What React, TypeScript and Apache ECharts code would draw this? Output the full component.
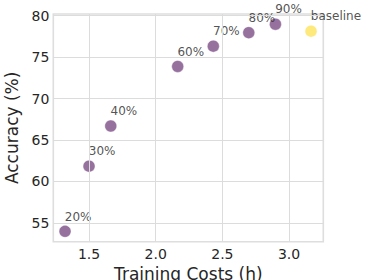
import React, { useEffect, useRef } from "react";
import * as echarts from "echarts";

const pruneLabels = ["20%", "30%", "40%", "60%", "70%", "80%", "90%"];
const pruneCosts = [1.32, 1.5, 1.663, 2.165, 2.432, 2.698, 2.898];
const pruneAccuracy = [53.97, 61.84, 66.68, 73.87, 76.32, 77.95, 78.97];
const baselineLabel = ["baseline"];
const baselineCost = [3.165];
const baselineAccuracy = [78.13];

const xTicks = [1.5, 2.0, 2.5, 3.0];
const yTicks = [55, 60, 65, 70, 75, 80];

const FONT = "DejaVu Sans";
const TEXT = "#262626";
const GRID = "#dcdcdc";

export default function App() {
  const ref = useRef<HTMLDivElement>(null);
  useEffect(() => {
    if (!ref.current) return;
    const chart = echarts.init(ref.current, null, { renderer: "svg" });
    const label = {
      show: true,
      formatter: (p: any) => p.name,
      position: [6, -8.5],
      align: "left",
      verticalAlign: "middle",
      fontFamily: FONT,
      fontSize: 12,
      color: TEXT,
    };
    chart.setOption({
      animation: false,
      textStyle: { fontFamily: FONT },
      grid: {
        left: 53.3,
        right: 43.7,
        top: 14,
        bottom: 38.3,
        containLabel: false,
        outerBoundsMode: "none",
        show: true,
        borderColor: "#dedede",
        borderWidth: 1.6,
        backgroundColor: "#ffffff",
      },
      xAxis: {
        type: "value",
        min: 1.232,
        max: 3.257,
        axisLine: { show: false },
        axisTick: { show: false, customValues: xTicks },
        splitLine: { show: false },
        axisLabel: {
          customValues: xTicks,
          fontFamily: FONT,
          fontSize: 14,
          color: TEXT,
          margin: 5,
          formatter: (v: number) => v.toFixed(1),
        },
        name: "Training Costs (h)",
        nameLocation: "middle",
        nameGap: 19,
        nameTextStyle: { fontFamily: FONT, fontSize: 17, color: TEXT },
      },
      yAxis: {
        type: "value",
        min: 52.72,
        max: 80.2,
        axisLine: { show: false },
        axisTick: { show: false, customValues: yTicks },
        splitLine: { show: false },
        axisLabel: {
          customValues: yTicks,
          fontFamily: FONT,
          fontSize: 14,
          color: TEXT,
          margin: 4,
          formatter: (v: number) => String(v),
        },
        name: "Accuracy (%)",
        nameLocation: "middle",
        nameGap: 27,
        nameTextStyle: { fontFamily: FONT, fontSize: 17, color: TEXT },
      },
      series: [
        {
          type: "scatter",
          symbolSize: 0,
          silent: true,
          data: [],
          markLine: {
            silent: true,
            symbol: ["none", "none"],
            label: { show: false },
            lineStyle: { color: GRID, width: 1, type: "solid" },
            data: [
              ...xTicks.map((t) => ({ xAxis: t })),
              ...yTicks.map((t) => ({ yAxis: t })),
            ],
          },
          z: 1,
        },
        {
          type: "scatter",
          symbolSize: 12,
          z: 3,
          itemStyle: { color: "#7c4e86", borderColor: "#ffffff", borderWidth: 0.5 },
          label,
          data: pruneCosts.map((c, i) => ({ name: pruneLabels[i], value: [c, pruneAccuracy[i]] })),
        },
        {
          type: "scatter",
          symbolSize: 12,
          z: 3,
          itemStyle: { color: "#fee45c", borderColor: "#ffffff", borderWidth: 0.5 },
          label,
          data: baselineCost.map((c, i) => ({ name: baselineLabel[i], value: [c, baselineAccuracy[i]] })),
        },
      ],
    });
    return () => chart.dispose();
  }, []);
  return <div ref={ref} style={{ width: 367, height: 280, position: "absolute", left: 0, top: 0 }} />;
}
